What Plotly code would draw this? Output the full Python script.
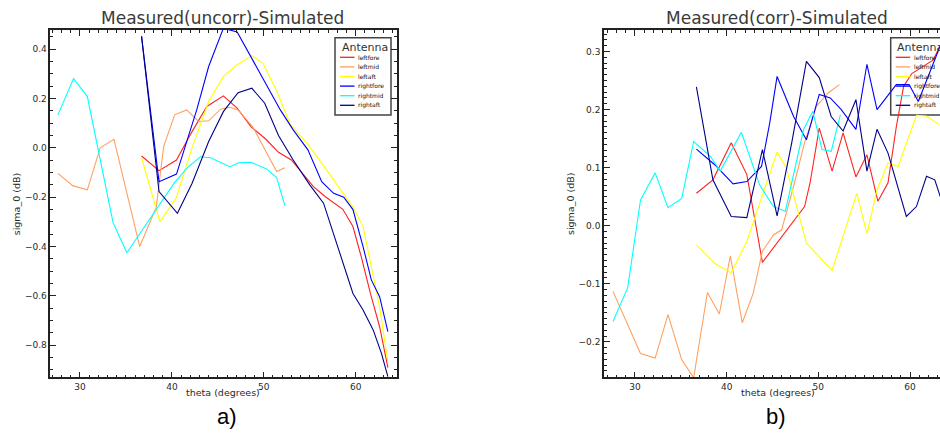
import plotly.graph_objects as go

W, H = 940, 443

names = ["leftfore", "leftmid", "leftaft", "rightfore", "rightmid", "rightaft"]
colors = ["#ff2020", "#ffa060", "#ffff00", "#0000ff", "#00ffff", "#00008b"]

# ---- a) Measured(uncorr) - Simulated ----
u_leftfore_t = [36.7, 38.6, 40.5, 42.1, 43.8, 45.6, 47.1, 48.6, 50.2, 51.6, 53.0, 54.2, 55.4, 56.7, 58.6, 59.7, 60.6, 61.6, 62.6, 63.5]
u_leftfore_v = [-0.033, -0.092, -0.049, 0.06, 0.168, 0.211, 0.161, 0.086, 0.036, -0.018, -0.049, -0.103, -0.157, -0.198, -0.249, -0.319, -0.441, -0.59, -0.725, -0.891]

u_leftmid_t = [27.6, 29.2, 30.8, 32.2, 33.7, 36.5, 38.3, 39.1, 40.3, 41.6, 42.9, 44.0, 45.3, 46.3, 47.2, 48.8, 50.3, 51.4, 52.3]
u_leftmid_v = [-0.103, -0.153, -0.17, 0.0, 0.035, -0.40, -0.24, 0.005, 0.134, 0.154, 0.107, 0.11, 0.157, 0.165, 0.154, 0.086, -0.02, -0.096, -0.08]

u_leftaft_t = [36.7, 38.7, 40.5, 42.0, 44.0, 45.6, 47.1, 48.7, 49.9, 51.4, 52.9, 54.7, 56.3, 57.6, 59.7, 60.8, 61.7, 62.6, 63.5]
u_leftaft_v = [-0.04, -0.30, -0.20, -0.02, 0.188, 0.29, 0.337, 0.374, 0.343, 0.232, 0.093, 0.019, -0.062, -0.13, -0.24, -0.319, -0.48, -0.644, -0.867]

u_rightfore_t = [36.7, 38.6, 40.5, 42.7, 44.0, 45.6, 47.1, 48.5, 50.2, 51.8, 53.2, 54.8, 56.3, 57.6, 58.7, 59.7, 60.8, 61.7, 62.6, 63.5]
u_rightfore_v = [0.452, -0.137, -0.106, 0.154, 0.33, 0.485, 0.470, 0.375, 0.262, 0.154, 0.073, -0.008, -0.137, -0.184, -0.2, -0.25, -0.40, -0.535, -0.603, -0.745]

u_rightmid_t = [27.6, 29.3, 30.8, 32.2, 33.6, 35.1, 38.7, 40.3, 41.7, 43.1, 44.2, 46.3, 47.3, 48.6, 50.3, 51.4, 52.3]
u_rightmid_v = [0.134, 0.281, 0.208, -0.05, -0.303, -0.425, -0.23, -0.14, -0.08, -0.036, -0.04, -0.076, -0.06, -0.058, -0.085, -0.12, -0.235]

u_rightaft_t = [36.7, 38.6, 40.6, 42.2, 44.0, 45.6, 47.2, 48.7, 50.1, 51.6, 53.2, 55.0, 56.5, 58.7, 59.7, 60.8, 61.9, 62.8, 63.5]
u_rightaft_v = [0.452, -0.177, -0.265, -0.143, 0.026, 0.147, 0.224, 0.242, 0.181, 0.05, -0.049, -0.15, -0.224, -0.48, -0.59, -0.657, -0.738, -0.833, -0.927]

# ---- b) Measured(corr) - Simulated ----
c_leftfore_t = [36.7, 38.5, 40.5, 42.2, 43.9, 45.8, 47.3, 48.5, 49.1, 50.1, 51.5, 52.7, 54.1, 55.3, 56.5, 57.6, 58.5, 59.3, 60.2, 61.8, 62.5, 63.3]
c_leftfore_v = [0.056, 0.079, 0.143, 0.088, -0.063, -0.024, 0.008, 0.033, 0.074, 0.168, 0.094, 0.16, 0.084, 0.122, 0.042, 0.074, 0.17, 0.24, 0.262, 0.278, 0.285, 0.31]

c_leftmid_t = [27.6, 29.1, 30.6, 32.2, 33.6, 35.1, 36.4, 37.9, 39.2, 40.4, 41.7, 42.9, 43.9, 45.1, 46.0, 47.4, 48.5, 49.8, 51.1, 52.3]
c_leftmid_v = [-0.113, -0.165, -0.22, -0.228, -0.153, -0.231, -0.262, -0.115, -0.152, -0.052, -0.167, -0.116, -0.044, -0.016, -0.007, 0.074, 0.143, 0.206, 0.229, 0.243]

c_leftaft_t = [36.7, 38.7, 40.5, 42.2, 45.5, 46.5, 48.7, 51.5, 54.2, 55.3, 56.4, 57.6, 58.7, 60.7, 61.8, 63.2]
c_leftaft_v = [-0.033, -0.065, -0.081, -0.027, 0.127, 0.10, -0.03, -0.077, 0.056, -0.014, 0.062, 0.108, 0.102, 0.19, 0.189, 0.174]

c_rightfore_t = [36.7, 38.7, 40.7, 42.2, 43.8, 44.7, 45.5, 47.3, 48.7, 50.1, 51.3, 52.5, 54.1, 55.3, 56.4, 58.5, 59.9, 60.9, 63.3]
c_rightfore_v = [0.132, 0.105, 0.072, 0.076, 0.102, 0.177, 0.257, 0.188, 0.148, 0.226, 0.22, 0.2, 0.166, 0.278, 0.2, 0.243, 0.243, 0.214, 0.31]

c_rightmid_t = [27.6, 29.2, 30.6, 32.2, 33.6, 35.1, 36.4, 38.2, 39.3, 41.6, 43.6, 45.1, 46.4, 48.4, 49.4, 50.4, 51.4, 52.4]
c_rightmid_v = [-0.165, -0.107, 0.044, 0.091, 0.031, 0.047, 0.145, 0.12, 0.094, 0.161, 0.07, 0.033, 0.025, 0.166, 0.197, 0.131, 0.128, 0.191]

c_rightaft_t = [36.7, 38.5, 40.5, 42.2, 43.9, 45.5, 47.1, 48.7, 50.1, 51.4, 52.7, 54.1, 55.3, 56.4, 57.6, 58.5, 59.6, 60.7, 61.8, 62.7, 63.3]
c_rightaft_v = [0.239, 0.079, 0.016, 0.014, 0.131, 0.017, 0.143, 0.283, 0.255, 0.188, 0.163, 0.217, 0.094, 0.166, 0.125, 0.074, 0.016, 0.033, 0.085, 0.079, 0.05]

titles = ["Measured(uncorr)-Simulated", "Measured(corr)-Simulated"]
x_title = "theta (degrees)"
y_title = "sigma_0 (dB)"
legend_title = "Antenna"
panel_labels = ["a)", "b)"]

uncorr = [(u_leftfore_t, u_leftfore_v), (u_leftmid_t, u_leftmid_v), (u_leftaft_t, u_leftaft_v),
          (u_rightfore_t, u_rightfore_v), (u_rightmid_t, u_rightmid_v), (u_rightaft_t, u_rightaft_v)]
corr = [(c_leftfore_t, c_leftfore_v), (c_leftmid_t, c_leftmid_v), (c_leftaft_t, c_leftaft_v),
        (c_rightfore_t, c_rightfore_v), (c_rightmid_t, c_rightmid_v), (c_rightaft_t, c_rightaft_v)]


def px(x):
    return x / W


def py(y):
    return 1 - y / H


fig = go.Figure()
for (t, v), name, col in zip(uncorr, names, colors):
    fig.add_trace(go.Scatter(x=t, y=v, mode="lines", name=name, line=dict(color=col, width=1.1),
                             xaxis="x", yaxis="y", showlegend=False))
for (t, v), name, col in zip(corr, names, colors):
    fig.add_trace(go.Scatter(x=t, y=v, mode="lines", name=name, line=dict(color=col, width=1.1),
                             xaxis="x2", yaxis="y2", showlegend=False))

FONT = "DejaVu Sans"
TXT = "#2a2a2a"
tickfont = dict(family=FONT, size=9, color=TXT)
AX = "#222222"

axis_common = dict(showgrid=False, zeroline=False, showline=True, linecolor=AX, linewidth=1.5,
                   ticks="inside", ticklen=6, tickwidth=1, tickcolor=AX, tickfont=tickfont)
tick_only = dict(showgrid=False, zeroline=False, showline=False, showticklabels=False,
                 ticks="inside", ticklen=6, tickwidth=1, tickcolor=AX)

ydom = [py(377.3), py(30)]
xdom1 = [px(50.3), px(396.7)]
xdom2 = [px(604), 1.0]
xr1 = [26.77, 64.46]
xr2 = [26.62, 63.27]
yr1 = [-0.93, 0.478]
yr2 = [-0.261, 0.337]


def mnr(d):
    return dict(dtick=d, ticklen=3, tickcolor=AX, ticks="inside", tickwidth=1)


fig.update_layout(
    width=W, height=H,
    margin=dict(l=0, r=0, t=0, b=0),
    paper_bgcolor="white", plot_bgcolor="white",
    xaxis=dict(domain=xdom1, range=xr1, anchor="y", tick0=0, dtick=10, mirror="ticks",
               minor=mnr(1), **axis_common),
    yaxis=dict(domain=ydom, range=yr1, anchor="x", tick0=0, dtick=0.2, tickformat=".1f", mirror="ticks",
               minor=mnr(0.05), **axis_common),
    xaxis2=dict(domain=xdom2, range=xr2, anchor="y2", tick0=0, dtick=10, mirror="ticks",
                minor=mnr(1), **axis_common),
    yaxis2=dict(domain=ydom, range=yr2, anchor="x2", tick0=0, dtick=0.1, tickformat=".1f", mirror=False,
                minor=mnr(0.01), **axis_common),
    # tick-only companion axes for the top / right edges (IDL-style box ticks)
    xaxis3=dict(domain=xdom1, range=xr1, anchor="y", overlaying="x", side="top", tick0=0, dtick=10,
                minor=mnr(1), **tick_only),
    yaxis3=dict(domain=ydom, range=yr1, anchor="x", overlaying="y", side="right", tick0=0, dtick=0.2,
                minor=mnr(0.05), **tick_only),
    xaxis4=dict(domain=xdom2, range=xr2, anchor="y2", overlaying="x2", side="top", tick0=0, dtick=10,
                minor=mnr(1), **tick_only),
)

annotations = []
shapes = []

title_cx = [222.5, 776.7]
xt_cx = [223, 778]
yt_cx = [16.3, 570]
label_cx = [227, 776]
for i in range(2):
    annotations.append(dict(text=titles[i], x=px(title_cx[i]), y=py(18), xref="paper", yref="paper",
                            xanchor="center", yanchor="middle", showarrow=False,
                            font=dict(family=FONT, size=17, color="#3a3a3a")))
    annotations.append(dict(text=x_title, x=px(xt_cx[i]), y=py(392.5), xref="paper", yref="paper",
                            xanchor="center", yanchor="middle", showarrow=False,
                            font=dict(family=FONT, size=9.5, color=TXT)))
    annotations.append(dict(text=y_title, x=px(yt_cx[i]), y=py(204), xref="paper", yref="paper",
                            xanchor="center", yanchor="middle", showarrow=False, textangle=-90,
                            font=dict(family=FONT, size=9.5, color=TXT)))
    annotations.append(dict(text=panel_labels[i], x=px(label_cx[i]), y=py(416), xref="paper", yref="paper",
                            xanchor="center", yanchor="middle", showarrow=False,
                            font=dict(family="Liberation Sans, Arial", size=22, color="#000000")))

leg_x0 = [335.0, 890.7]
for i in range(2):
    x0 = leg_x0[i]
    shapes.append(dict(type="rect", xref="paper", yref="paper", x0=px(x0), x1=px(x0 + 56), y0=py(115), y1=py(37.7),
                       line=dict(color="#444444", width=1.5), fillcolor="white", layer="below"))
    annotations.append(dict(text=legend_title, x=px(x0 + 4.5), y=py(47.5), xref="paper", yref="paper",
                            xanchor="left", yanchor="middle", showarrow=False,
                            font=dict(family=FONT, size=11, color="#333333")))
    for k, (name, col) in enumerate(zip(names, colors)):
        yy = 57.3 + k * 9.6
        shapes.append(dict(type="line", xref="paper", yref="paper", x0=px(x0 + 5), x1=px(x0 + 19.5),
                           y0=py(yy), y1=py(yy), line=dict(color=col, width=1.3), layer="above"))
        annotations.append(dict(text=name, x=px(x0 + 21), y=py(yy), xref="paper", yref="paper",
                                xanchor="left", yanchor="middle", showarrow=False,
                                font=dict(family=FONT, size=6, color="#111111")))

fig.update_layout(annotations=annotations, shapes=shapes)
fig.write_html("out.html",
               config={"displayModeBar": False},
               post_script="document.body.style.margin='0';document.body.style.padding='0';")
